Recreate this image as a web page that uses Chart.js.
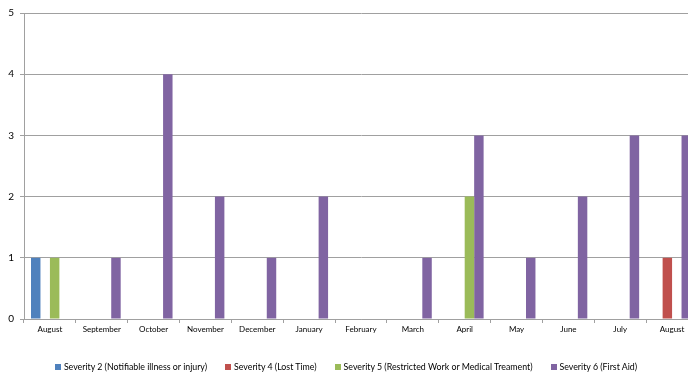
<!DOCTYPE html>
<html>
<head>
<meta charset="utf-8">
<script src="https://cdn.jsdelivr.net/npm/chart.js@4.4.0/dist/chart.umd.min.js"></script>
<style>
  html, body { margin: 0; padding: 0; background: #ffffff; overflow: hidden; }
  #wrap { position: relative; width: 698px; height: 372px; }
  #legend {
    position: absolute; left: 0; top: 361px; width: 692px;
    display: flex; justify-content: center; gap: 18px;
    font-family: Lato, "Open Sans", sans-serif; font-size: 8.8px; color: #000;
    line-height: 12px; white-space: nowrap;
  }
  #legend .item { display: flex; align-items: center; }
  #legend .box { width: 6px; height: 6px; margin-right: 3px; }
</style>
</head>
<body>
<div id="wrap">
  <canvas id="c" width="698" height="372"></canvas>
  <div id="legend"></div>
</div>
<script>
// Incident counts per month, by severity
const months = ['August', 'September', 'October', 'November', 'December', 'January',
  'February', 'March', 'April', 'May', 'June', 'July', 'August'];
const severity2 = [1, 0, 0, 0, 0, 0, 0, 0, 0, 0, 0, 0, 0];
const severity4 = [0, 0, 0, 0, 0, 0, 0, 0, 0, 0, 0, 0, 1];
const severity5 = [1, 0, 0, 0, 0, 0, 0, 0, 2, 0, 0, 0, 0];
const severity6 = [0, 1, 4, 2, 1, 2, 0, 1, 3, 1, 2, 3, 3];
const yTicks = [0, 1, 2, 3, 4, 5];

const seriesNames = [
  'Severity 2 (Notifiable illness or injury)',
  'Severity 4 (Lost Time)',
  'Severity 5 (Restricted Work or Medical Treament)',
  'Severity 6 (First Aid)'
];
const seriesColors = ['#4F81BD', '#C0504D', '#9BBB59', '#8064A2'];
const seriesData = [severity2, severity4, severity5, severity6];

const FONT = 'Lato, "Open Sans", sans-serif';

const chart = new Chart(document.getElementById('c'), {
  type: 'bar',
  data: {
    labels: months,
    datasets: seriesData.map((d, i) => ({
      label: seriesNames[i],
      data: d,
      backgroundColor: seriesColors[i],
      borderWidth: 0,
      categoryPercentage: 0.73,
      barPercentage: 1.0
    }))
  },
  options: {
    responsive: false,
    animation: false,
    layout: { padding: { top: 13, right: 0, bottom: 37, left: 0 } },
    plugins: {
      tooltip: { enabled: false },
      legend: { display: false }
    },
    scales: {
      x: {
        grid: {
          offset: true,
          drawOnChartArea: false,
          drawTicks: true,
          tickLength: 4,
          color: '#a0a0a0'
        },
        border: { color: '#a0a0a0', width: 1 },
        ticks: {
          color: '#000000',
          padding: 2,
          maxRotation: 0,
          autoSkip: false,
          font: { family: FONT, size: 8 }
        },
        afterFit: (s) => { s.height = 16; }
      },
      y: {
        min: 0,
        max: 5,
        afterBuildTicks: (s) => { s.ticks = yTicks.map(v => ({ value: v })); },
        grid: {
          color: '#a0a0a0',
          drawTicks: true,
          tickLength: 4
        },
        border: { color: '#a0a0a0', width: 1 },
        ticks: {
          color: '#000000',
          padding: 6,
          font: { family: FONT, size: 10 }
        },
        afterFit: (s) => { s.width = 24; }
      }
    }
  }
});

// Legend built from the chart's own datasets
const legend = document.getElementById('legend');
chart.data.datasets.forEach((ds) => {
  const item = document.createElement('span');
  item.className = 'item';
  const box = document.createElement('span');
  box.className = 'box';
  box.style.background = ds.backgroundColor;
  item.appendChild(box);
  item.appendChild(document.createTextNode(ds.label));
  legend.appendChild(item);
});
</script>
</body>
</html>
